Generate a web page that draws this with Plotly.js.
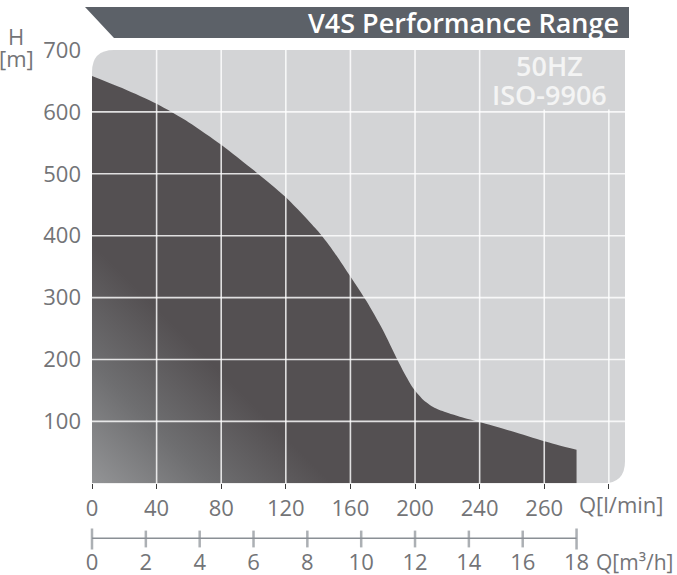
<!DOCTYPE html>
<html><head><meta charset="utf-8">
<script src="https://cdn.plot.ly/plotly-3.0.1.min.js"></script>
<style>html,body{margin:0;padding:0;background:#fff}</style>
</head><body><div id="chart" style="width:677px;height:575px"></div>
<script>
// ---- data ----
const flowLmin = [0, 20, 40, 60, 80, 100, 120, 140, 150, 160, 170, 180, 189, 194, 199, 205, 212, 220, 230, 240, 260, 280, 300];
const headM    = [658, 637, 613, 583, 547, 506, 462, 407, 373, 334, 294, 248, 200, 175, 153, 135, 122, 114, 106, 99, 84, 68, 54];
const xTickVals = [0, 40, 80, 120, 160, 200, 240, 280, 320];
const xTickText = ['0', '40', '80', '120', '160', '200', '240', '260', ''];
const yTickVals = [100, 200, 300, 400, 500, 600, 700];
const m3hTicks  = [0, 2, 4, 6, 8, 10, 12, 14, 16, 18];
const titleText = 'V4S Performance Range';
const noteLines = ['50HZ', 'ISO-9906'];

// ---- geometry ----
const W = 677, H = 575, L = 92, R = 52, T = 50, B = 36;
const plotW = W - L - R, plotH = H - T - B;
const xMax = 330, yMax = 700;
const axisBottomPx = 483.3;
const yDomLo = (H - B - axisBottomPx) / plotH;
const xp = px => (px - L) / plotW;
const yp = py => (H - B - py) / plotH;
const unitX = plotW / xMax;                 // px per l/min
const unitY = (axisBottomPx - T) / yMax;    // px per m

const labelFont = {family: 'Open Sans, sans-serif', size: 22, color: '#737477'};
const bgGrey = '#d3d4d6';
const dark = '#545052';

// rounded grey background (top-left and bottom-right corners)
const rx = 22 / unitX, ry = 22 / unitY;
const bgPath = `M0,0 L${xMax - rx},0 Q${xMax},0 ${xMax},${ry} L${xMax},${yMax} L${rx},${yMax} Q0,${yMax} 0,${yMax - ry} Z`;

const shapes = [
  {type: 'path', xref: 'x', yref: 'y', path: bgPath, fillcolor: bgGrey, line: {width: 0}, layer: 'below'}
];
const gridStyle = {color: 'rgba(255,255,255,0.82)', width: 1.6};
xTickVals.filter(v => v > 0).forEach(v => shapes.push({type: 'line', xref: 'x', yref: 'y', x0: v, x1: v, y0: 0, y1: yMax, line: gridStyle, layer: 'above'}));
yTickVals.filter(v => v < yMax).forEach(v => shapes.push({type: 'line', xref: 'x', yref: 'y', x0: 0, x1: xMax, y0: v, y1: v, line: gridStyle, layer: 'above'}));
// box behind the 50HZ / ISO-9906 note
shapes.push({type: 'rect', xref: 'x', yref: 'y', x0: 243, x1: xMax, y0: 604, y1: yMax, fillcolor: bgGrey, line: {width: 0}, layer: 'above'});
// title banner
shapes.push({type: 'path', xref: 'paper', yref: 'paper',
  path: `M${xp(85)},${yp(7)} L${xp(629)},${yp(7)} L${xp(629)},${yp(38)} L${xp(114)},${yp(38)} Z`,
  fillcolor: '#5c6168', line: {width: 0}, layer: 'above'});

// diagonal gradient in the lower-left of the range area
const gsvg = "<svg xmlns='http://www.w3.org/2000/svg' width='100' height='100' viewBox='0 0 100 100' preserveAspectRatio='none'>" +
  "<defs><linearGradient id='g' gradientUnits='userSpaceOnUse' x1='0' y1='100' x2='50' y2='50'>" +
  "<stop offset='0' stop-color='#939496'/><stop offset='0.5' stop-color='#6e6e70'/><stop offset='1' stop-color='" + dark + "'/></linearGradient></defs>" +
  "<path d='M0,0 L100,100 L0,100 Z' fill='url(#g)'/></svg>";
const gradSrc = 'data:image/svg+xml;charset=utf-8,' + encodeURIComponent(gsvg);

const traces = [
  {x: flowLmin, y: headM, type: 'scatter', mode: 'lines', fill: 'tozeroy', fillcolor: dark,
   line: {width: 0, shape: 'spline', smoothing: 0.7, color: dark}, hoverinfo: 'skip', xaxis: 'x', yaxis: 'y'},
  {x: m3hTicks, y: m3hTicks.map(() => 0), type: 'scatter', mode: 'lines+markers', xaxis: 'x2', yaxis: 'y2',
   line: {color: '#8a8f95', width: 3},
   marker: {symbol: 'line-ns', size: m3hTicks.map((v, i) => (i === 0 || i === m3hTicks.length - 1) ? 15 : 12),
            line: {color: '#8a8f95', width: 2.5}},
   cliponaxis: false, hoverinfo: 'skip'}
];

const ann = (text, x, y, xanchor, font) => ({text, xref: 'paper', yref: 'paper', x: xp(x), y: yp(y),
  xanchor, yanchor: 'middle', showarrow: false, font});
const noteFont = {family: 'Open Sans, sans-serif', size: 27, color: '#f4f4f4', weight: 600};
const annotations = [
  ann(titleText, 621, 22.5, 'right', {family: 'Open Sans, sans-serif', size: 27, color: '#ffffff', weight: 600}),
  ann(noteLines[0], 549.5, 65, 'center', noteFont),
  ann(noteLines[1], 549.5, 94.5, 'center', noteFont),
  ann('H', 16, 36, 'center', labelFont),
  ann('[m]', 16, 58, 'center', labelFont),
  ann('Q[l/min]', 577, 504, 'left', labelFont),
  ann('Q[m³/h]', 675, 562, 'right', {family: labelFont.family, size: 21, color: labelFont.color})
];

const layout = {
  width: W, height: H,
  margin: {l: L, r: R, t: T, b: B, pad: 0},
  paper_bgcolor: '#ffffff', plot_bgcolor: '#ffffff',
  showlegend: false, hovermode: false,
  xaxis: {domain: [0, 1], range: [0, xMax], anchor: 'y', tickvals: xTickVals, ticktext: xTickText,
          ticks: 'outside', ticklen: 5, tickwidth: 1, tickcolor: '#3a3a3a', tickfont: labelFont,
          showgrid: false, zeroline: false, showline: false},
  yaxis: {domain: [yDomLo, 1], range: [0, yMax], anchor: 'x', tickvals: yTickVals, ticks: '',
          tickfont: labelFont, showgrid: false, zeroline: false, showline: false, ticklabelstandoff: 10},
  xaxis2: {domain: [0, 1], range: [0, xMax * 0.06], anchor: 'y2', tickvals: m3hTicks, ticks: '',
           tickfont: labelFont, showgrid: false, zeroline: false, showline: false, ticklabelstandoff: 8},
  yaxis2: {domain: [0, 0.05], range: [0, 1], anchor: 'x2', visible: false, showgrid: false, zeroline: false},
  shapes, annotations,
  images: [{source: gradSrc, xref: 'x', yref: 'y', x: 0, y: 0, xanchor: 'left', yanchor: 'bottom',
            sizex: 240 / unitX, sizey: 240 / unitY, sizing: 'stretch', layer: 'above'}]
};

Plotly.newPlot('chart', traces, layout, {staticPlot: true, displayModeBar: false});
</script>
</body></html>
